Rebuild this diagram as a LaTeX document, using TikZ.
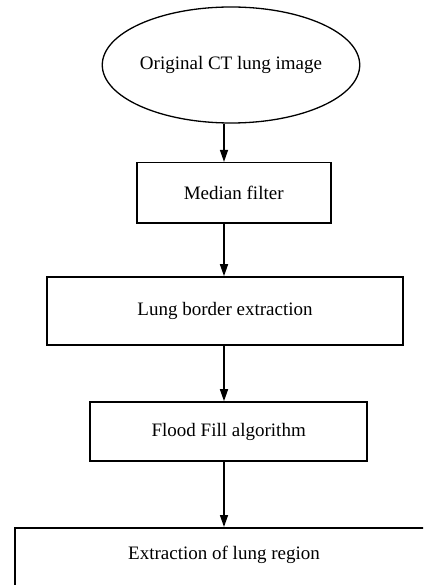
\documentclass[tikz,border=0pt]{standalone}
\usepackage{fontspec}
\setmainfont{Liberation Serif}
\usetikzlibrary{shapes.geometric,arrows.meta}
\begin{document}
\begin{tikzpicture}[x=1pt,y=-1pt,
  every node/.style={font=\fontsize{19}{23}\selectfont, inner sep=0pt},
  stepbox/.style={draw, line width=1.6pt, rectangle},
  startnode/.style={draw, line width=1.3pt, ellipse},
  arr/.style={line width=1.5pt, -{Triangle[length=12pt,width=8pt]}}]
\useasboundingbox (0,0) rectangle (423,585);
\clip (0,0) rectangle (423,585);
\coordinate (axis) at (224,0);
\node[startnode, minimum width=239pt, minimum height=116pt] (orig) at (231,65) {Original CT lung image};
\node[stepbox, minimum width=194pt, minimum height=60pt] (med) at (233.7,192.7) {Median filter};
\node[stepbox, minimum width=356pt, minimum height=68pt] (lung) at (225,311) {Lung border extraction};
\node[stepbox, minimum width=277pt, minimum height=59pt] (flood) at (228.7,431.5) {Flood Fill algorithm};
\node[stepbox, anchor=north west, minimum width=440pt, minimum height=100pt] (extbox) at (14,527) {};
\node (ext) at (224,555) {Extraction of lung region};
\draw[arr] (orig.south -| axis) -- (med.north -| axis);
\draw[arr] (med.south -| axis) -- (lung.north -| axis);
\draw[arr] (lung.south -| axis) -- (flood.north -| axis);
\draw[arr] (flood.south -| axis) -- (extbox.north -| axis);
\end{tikzpicture}
\end{document}
